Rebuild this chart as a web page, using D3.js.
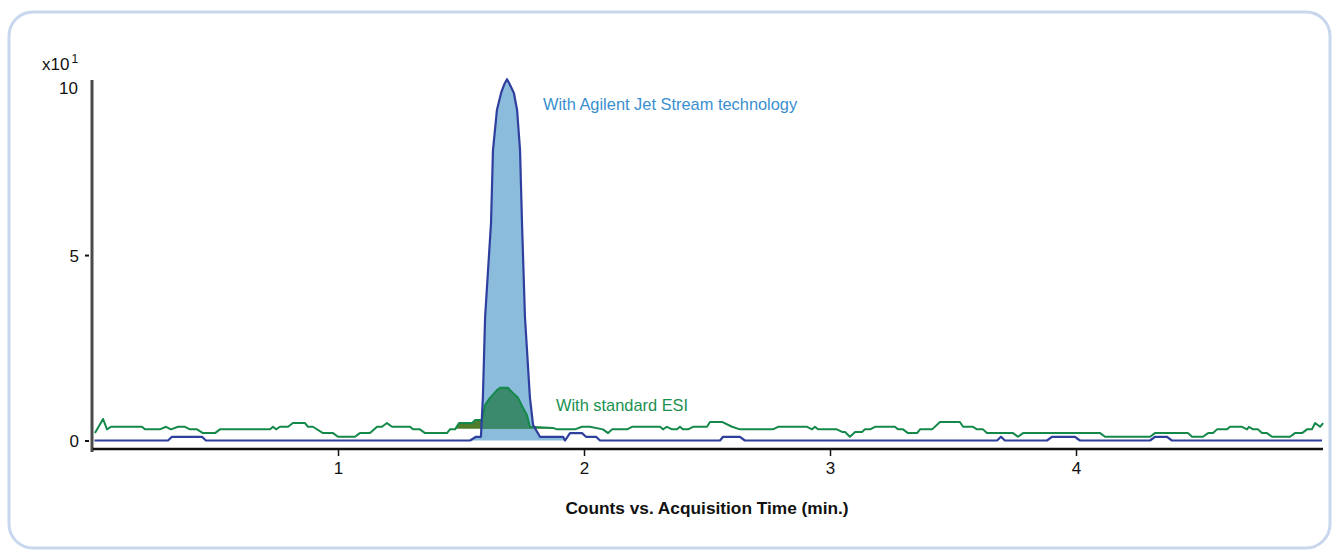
<!DOCTYPE html>
<html>
<head>
<meta charset="utf-8">
<script src="https://cdn.jsdelivr.net/npm/d3@7"></script>
<style>
	body { margin: 0; background: #fff; }
	text { font-family: "Liberation Sans Narrow", "Arial Narrow", "Liberation Sans", sans-serif; }
</style>
</head>
<body>
<div id="chart"></div>
<script>
// acquisition time (min) and counts (x10^1)
const jetTime = [0.01, 0.309, 0.325, 0.447, 0.463, 1.537, 1.561, 1.581, 1.589, 1.598, 1.610, 1.622, 1.630, 1.646, 1.663, 1.677, 1.687,
	1.697, 1.715, 1.728, 1.740, 1.748, 1.760, 1.780, 1.793, 1.821, 1.915, 1.923, 1.943, 1.992, 2.008, 2.049, 2.065, 2.553, 2.565,
	2.634, 2.654, 3.679, 3.695, 3.711, 3.882, 3.902, 3.996, 4.016, 4.301, 4.321, 4.370, 4.390, 5.0];
const jetCounts = [0, 0, 0.1, 0.1, 0, 0, 0.1, 0.1, 1.17, 3.33, 4.6, 5.86, 7.83, 8.91, 9.37, 9.62, 9.74,
	9.62, 9.37, 8.91, 7.83, 5.86, 3.33, 1.17, 0.42, 0.1, 0.1, 0, 0.2, 0.2, 0.1, 0.1, 0, 0, 0.1,
	0.1, 0, 0, 0.1, 0, 0, 0.1, 0.1, 0, 0, 0.1, 0.1, 0, 0];

const esiTime = [0.012, 0.045, 0.061, 0.077, 0.203, 0.215, 0.276, 0.301, 0.321, 0.350, 0.378, 0.398, 0.427, 0.451, 0.500,
	0.520, 0.724, 0.736, 0.748, 0.764, 0.797, 0.817, 0.866, 0.878, 0.898, 0.939, 0.980, 1.000, 1.069, 1.089, 1.130, 1.159,
	1.179, 1.199, 1.220, 1.293, 1.305, 1.333, 1.354, 1.443, 1.455, 1.476, 1.492, 1.545, 1.557, 1.585, 1.598, 1.618, 1.646,
	1.659, 1.691, 1.711, 1.732, 1.752, 1.768, 1.780, 1.874, 1.890, 1.963, 1.992, 2.024, 2.077, 2.098, 2.114, 2.175, 2.195,
	2.309, 2.321, 2.337, 2.358, 2.378, 2.390, 2.402, 2.423, 2.443, 2.500, 2.512, 2.561, 2.602, 2.634, 2.768, 2.789, 2.907,
	2.927, 2.939, 2.951, 3.028, 3.049, 3.061, 3.081, 3.102, 3.130, 3.142, 3.163, 3.183, 3.264, 3.276, 3.297, 3.317, 3.354,
	3.366, 3.415, 3.447, 3.528, 3.541, 3.581, 3.598, 3.622, 3.638, 3.744, 3.764, 3.785, 4.098, 4.118, 4.301, 4.321, 4.455,
	4.472, 4.516, 4.537, 4.557, 4.573, 4.614, 4.626, 4.675, 4.695, 4.703, 4.720, 4.740, 4.756, 4.776, 4.797, 4.870, 4.890,
	4.919, 4.939, 4.959, 4.972, 4.992, 5.005];
const esiCounts = [0.2, 0.58, 0.3, 0.37, 0.37, 0.3, 0.3, 0.37, 0.3, 0.37, 0.37, 0.3, 0.3, 0.2, 0.2,
	0.3, 0.3, 0.37, 0.3, 0.37, 0.37, 0.47, 0.47, 0.37, 0.37, 0.2, 0.2, 0.1, 0.1, 0.2, 0.2, 0.37,
	0.37, 0.47, 0.37, 0.37, 0.3, 0.3, 0.2, 0.2, 0.3, 0.3, 0.47, 0.47, 0.55, 0.55, 0.96, 1.15, 1.36,
	1.42, 1.42, 1.28, 1.15, 0.88, 0.69, 0.37, 0.34, 0.3, 0.3, 0.37, 0.37, 0.3, 0.2, 0.3, 0.3, 0.37,
	0.37, 0.3, 0.37, 0.3, 0.3, 0.37, 0.3, 0.3, 0.37, 0.37, 0.5, 0.5, 0.37, 0.3, 0.3, 0.37, 0.37,
	0.3, 0.37, 0.3, 0.3, 0.23, 0.23, 0.1, 0.23, 0.23, 0.3, 0.3, 0.37, 0.37, 0.3, 0.3, 0.2, 0.2,
	0.3, 0.3, 0.5, 0.5, 0.37, 0.37, 0.3, 0.3, 0.2, 0.2, 0.1, 0.2, 0.2, 0.1, 0.1, 0.2, 0.2,
	0.1, 0.1, 0.2, 0.2, 0.3, 0.3, 0.37, 0.37, 0.3, 0.37, 0.3, 0.3, 0.2, 0.2, 0.1, 0.1, 0.2,
	0.2, 0.3, 0.3, 0.47, 0.37, 0.47];

// integrated peak windows
const jetPeak = [1.537, 1.923];
const esiPeak = [1.47, 1.874];
const esiBaseline = 0.32;

const xTicks = [1, 2, 3, 4];
const yTicks = [0, 5];
const yTopLabel = "10";
const xDomain = [0, 5];
const yDomain = [0, 9.72];

const seriesLabels = ["With Agilent Jet Stream technology", "With standard ESI"];
const xTitle = "Counts vs. Acquisition Time (min.)";

const jet = jetTime.map((t, i) => ({ t: t, v: jetCounts[i] }));
const esi = esiTime.map((t, i) => ({ t: t, v: esiCounts[i] }));

const W = 1339, H = 558;
const svg = d3.select("#chart").append("svg")
	.attr("width", W)
	.attr("height", H);

// frame
svg.append("rect")
	.attr("x", 9).attr("y", 12)
	.attr("width", 1321).attr("height", 536)
	.attr("rx", 24)
	.attr("fill", "none")
	.attr("stroke", "#c8d7ee")
	.attr("stroke-width", 3);

const x = d3.scaleLinear().domain(xDomain).range([92, 1322]);
const y = d3.scaleLinear().domain(yDomain).range([440.5, 80]);

const line = d3.line().x(d => x(d.t)).y(d => y(d.v));

// FILLS
const jetArea = d3.area().x(d => x(d.t)).y0(y(0)).y1(d => y(d.v));
const jetIn = jet.filter(d => d.t >= jetPeak[0] && d.t <= jetPeak[1]);

svg.append("path")
	.attr("d", jetArea(jetIn))
	.attr("fill", "#8bbcdc");

svg.append("clipPath").attr("id", "jetclip")
	.append("path").attr("d", jetArea(jetIn));

const esiArea = d3.area().x(d => x(d.t)).y0(y(esiBaseline)).y1(d => y(Math.max(d.v, esiBaseline)));
const esiIn = esi.filter(d => d.t >= esiPeak[0] && d.t <= esiPeak[1]);

svg.append("path")
	.attr("d", esiArea(esiIn))
	.attr("fill", "#4f7d2c");
svg.append("path")
	.attr("d", esiArea(esiIn))
	.attr("clip-path", "url(#jetclip)")
	.attr("fill", "#3b8a6d");

// TRACES
svg.append("path")
	.attr("d", line(esi))
	.attr("fill", "none")
	.attr("stroke", "#15894a")
	.attr("stroke-width", 2)
	.attr("stroke-linejoin", "round");

svg.append("path")
	.attr("d", line(jet))
	.attr("fill", "none")
	.attr("stroke", "#2f3f9e")
	.attr("stroke-width", 2.2)
	.attr("stroke-linejoin", "round");

// AXES
const yAxis = svg.append("g")
	.attr("transform", "translate(92,0)")
	.call(d3.axisLeft(y).tickValues(yTicks).tickSize(4).tickPadding(6).tickFormat(d3.format("d")));
yAxis.select(".domain").remove();
yAxis.selectAll(".tick line").attr("stroke", "#111").attr("stroke-width", 2).attr("x2", -7).attr("x1", -3);
yAxis.selectAll(".tick text").attr("font-size", 17).attr("fill", "#111").attr("dy", "0.36em").attr("x", -13);

svg.append("line")
	.attr("x1", 92).attr("x2", 92)
	.attr("y1", y(yDomain[1])).attr("y2", 452)
	.attr("stroke", "#4a4a4a")
	.attr("stroke-width", 3);

svg.append("text")
	.attr("x", 78).attr("y", y(yDomain[1]) + 14)
	.attr("text-anchor", "end")
	.attr("font-size", 17)
	.attr("fill", "#111")
	.text(yTopLabel);

const exp = svg.append("text")
	.attr("x", 42).attr("y", 70)
	.attr("font-size", 17)
	.attr("fill", "#111");
exp.append("tspan").text("x10");
exp.append("tspan").attr("dy", -7).attr("font-size", 12).attr("dx", 2).text("1");

const xAxis = svg.append("g")
	.attr("transform", "translate(0,449)")
	.call(d3.axisBottom(x).tickValues(xTicks).tickSize(7).tickPadding(6).tickFormat(d3.format("d")));
xAxis.select(".domain").remove();
xAxis.selectAll(".tick line").attr("stroke", "#111").attr("stroke-width", 1.5);
xAxis.selectAll(".tick text").attr("font-size", 17).attr("fill", "#111");

svg.append("line")
	.attr("x1", 93).attr("x2", x(xDomain[1]) + 1)
	.attr("y1", 449).attr("y2", 449)
	.attr("stroke", "#111")
	.attr("stroke-width", 2.5);

svg.append("text")
	.attr("x", 707).attr("y", 514)
	.attr("text-anchor", "middle")
	.attr("font-size", 17.3)
	.attr("font-weight", "bold")
	.attr("fill", "#111")
	.text(xTitle);

// LABELS
svg.append("text")
	.attr("x", 543).attr("y", 110)
	.attr("font-size", 16.4)
	.attr("fill", "#3a8fd0")
	.text(seriesLabels[0]);

svg.append("text")
	.attr("x", 556).attr("y", 411)
	.attr("font-size", 16.4)
	.attr("fill", "#1b9150")
	.text(seriesLabels[1]);
</script>
</body>
</html>
